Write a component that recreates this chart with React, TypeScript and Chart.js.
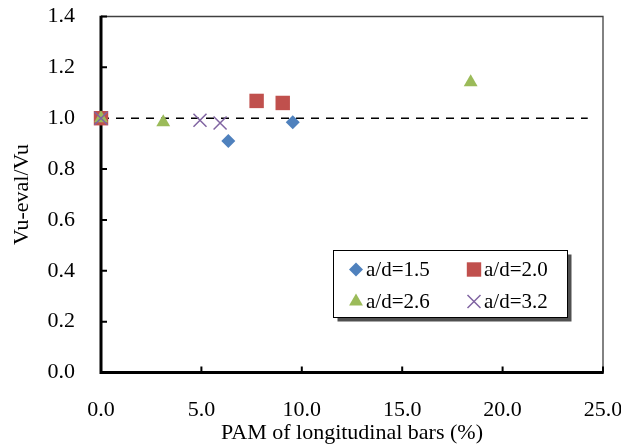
import React, { useEffect, useRef } from "react";
import { Chart, registerables } from "chart.js";

Chart.register(...registerables);

const FONT = "'Times New Roman', 'Liberation Serif', serif";

const xTicks = [0, 5, 10, 15, 20, 25];
const yTicks = [0, 0.2, 0.4, 0.6, 0.8, 1.0, 1.2, 1.4];
const seriesNames = ["a/d=1.5", "a/d=2.0", "a/d=2.6", "a/d=3.2"];
const seriesColors = ["#4F81BD", "#C0504D", "#9BBB59", "#8064A2"];

const s15X = [6.34, 9.55];
const s15Y = [0.91, 0.984];
const s20X = [0, 7.75, 9.05];
const s20Y = [1.0, 1.068, 1.06];
const s26X = [0, 3.1, 18.41];
const s26Y = [1.0, 0.984, 1.141];
const s32X = [0, 4.93, 5.93];
const s32Y = [1.0, 0.992, 0.981];
const refX = [0, 24.24];
const refY = [1.0, 1.0];

const xTitle = "PAM of longitudinal bars (%)";
const yTitle = "Vu-eval/Vu";

const pts = (xs: number[], ys: number[]) => xs.map((x, i) => ({ x, y: ys[i] }));

function drawMarker(ctx: CanvasRenderingContext2D, kind: number, x: number, y: number) {
  ctx.save();
  const c = seriesColors[kind];
  ctx.fillStyle = c;
  ctx.strokeStyle = c;
  ctx.beginPath();
  if (kind === 0) {
    const r = 7;
    ctx.moveTo(x - r, y);
    ctx.lineTo(x, y - r);
    ctx.lineTo(x + r, y);
    ctx.lineTo(x, y + r);
    ctx.closePath();
    ctx.fill();
  } else if (kind === 1) {
    const s = 7.2;
    ctx.rect(x - s, y - s, 2 * s, 2 * s);
    ctx.fill();
  } else if (kind === 2) {
    const r = 8;
    ctx.moveTo(x, y - r);
    ctx.lineTo(x + 0.866 * r, y + 0.5 * r);
    ctx.lineTo(x - 0.866 * r, y + 0.5 * r);
    ctx.closePath();
    ctx.fill();
  } else {
    const d = 6.5;
    ctx.lineWidth = 1.5;
    ctx.moveTo(x - d, y - d);
    ctx.lineTo(x + d, y + d);
    ctx.moveTo(x - d, y + d);
    ctx.lineTo(x + d, y - d);
    ctx.stroke();
  }
  ctx.restore();
}

const framePlugin = {
  id: "frame",
  beforeDatasetsDraw(chart: any) {
    const { ctx, chartArea: a, scales } = chart;
    ctx.save();
    ctx.strokeStyle = "#404040";
    ctx.lineWidth = 1.3;
    ctx.beginPath();
    ctx.moveTo(a.left, a.top);
    ctx.lineTo(a.right, a.top);
    ctx.lineTo(a.right, a.bottom);
    ctx.stroke();

    ctx.strokeStyle = "#000";
    ctx.lineWidth = 2;
    ctx.beginPath();
    for (const v of yTicks) {
      const y = scales.y.getPixelForValue(v);
      ctx.moveTo(a.left, y);
      ctx.lineTo(a.left + 6, y);
    }
    for (const v of xTicks) {
      const x = scales.x.getPixelForValue(v);
      ctx.moveTo(x, a.bottom);
      ctx.lineTo(x, a.bottom - 6);
    }
    ctx.stroke();

    ctx.lineWidth = 3;
    ctx.beginPath();
    ctx.moveTo(a.left, a.top - 0.7);
    ctx.lineTo(a.left, a.bottom);
    ctx.lineTo(a.right + 0.7, a.bottom);
    ctx.stroke();
    ctx.restore();
  },
};

const legendPlugin = {
  id: "boxLegend",
  afterDraw(chart: any) {
    const { ctx } = chart;
    const bx = 333.5, by = 250.5, bw = 234, bh = 67;
    ctx.save();
    ctx.fillStyle = "#505050";
    ctx.fillRect(bx + 4, by + 4, bw, bh);
    ctx.fillStyle = "#fff";
    ctx.fillRect(bx, by, bw, bh);
    ctx.strokeStyle = "#000";
    ctx.lineWidth = 1;
    ctx.strokeRect(bx, by, bw, bh);

    const colX = [356, 474];
    const rowY = [269.5, 301.5];
    ctx.font = `21px ${FONT}`;
    ctx.fillStyle = "#000";
    ctx.textAlign = "left";
    ctx.textBaseline = "alphabetic";
    for (let i = 0; i < 4; i++) {
      const cx = colX[i % 2];
      const cy = rowY[Math.floor(i / 2)];
      drawMarker(ctx, i, cx, cy);
      ctx.fillStyle = "#000";
      ctx.fillText(seriesNames[i], cx + 10, cy + 6.5);
    }
    ctx.restore();
  },
};

export default function App() {
  const ref = useRef<HTMLCanvasElement | null>(null);

  useEffect(() => {
    document.body.style.margin = "0";
    if (!ref.current) return;
    const tickFont = { family: FONT, size: 22 };
    const titleFont = { family: FONT, size: 22 };
    const chart = new Chart(ref.current, {
      type: "scatter",
      data: {
        datasets: [
          {
            label: seriesNames[0],
            data: pts(s15X, s15Y),
            pointStyle: "rectRot",
            pointRadius: 7,
            backgroundColor: seriesColors[0],
            borderColor: seriesColors[0],
            borderWidth: 0,
            clip: false,
            order: 3,
          } as any,
          {
            label: seriesNames[1],
            data: pts(s20X, s20Y),
            pointStyle: "rect",
            pointRadius: 10.2,
            backgroundColor: seriesColors[1],
            borderColor: seriesColors[1],
            borderWidth: 0,
            clip: false,
            order: 2,
          },
          {
            label: seriesNames[2],
            data: pts(s26X, s26Y),
            pointStyle: "triangle",
            pointRadius: 8,
            backgroundColor: seriesColors[2],
            borderColor: seriesColors[2],
            borderWidth: 0,
            clip: false,
            order: 1,
          },
          {
            label: seriesNames[3],
            data: pts(s32X, s32Y),
            pointStyle: "crossRot",
            pointRadius: 9.2,
            backgroundColor: seriesColors[3],
            borderColor: seriesColors[3],
            borderWidth: 1.5,
            clip: false,
            order: 0,
          },
          {
            type: "line",
            label: "ref",
            data: pts(refX, refY),
            borderColor: "#000",
            borderWidth: 1.5,
            borderDash: [8, 7],
            pointRadius: 0,
            showLine: true,
            fill: false,
            clip: false,
            order: 10,
          } as any,
        ],
      },
      options: {
        responsive: false,
        animation: false,
        events: [],
        layout: { padding: { left: 8.8, right: 18, top: 16.5, bottom: 1.5 } },
        plugins: { legend: { display: false }, tooltip: { enabled: false } },
        scales: {
          x: {
            type: "linear",
            min: 0,
            max: 25,
            afterBuildTicks: (s: any) => {
              s.ticks = xTicks.map((v) => ({ value: v }));
            },
            afterFit: (s: any) => {
              s.height = 448 - 1.5 - 372.5;
              s.paddingLeft = 0;
              s.paddingRight = 0;
            },
            grid: { display: false, drawTicks: false },
            border: { display: false },
            ticks: {
              padding: 25,
              color: "#000",
              font: tickFont,
              maxRotation: 0,
              autoSkip: false,
              callback: (v: any) => Number(v).toFixed(1),
            },
            title: { display: true, text: xTitle, color: "#000", font: titleFont, padding: 0 },
          },
          y: {
            type: "linear",
            min: 0,
            max: 1.4,
            afterBuildTicks: (s: any) => {
              s.ticks = yTicks.map((v) => ({ value: v }));
            },
            afterFit: (s: any) => {
              s.width = 101 - 8.8;
              s.paddingTop = 0;
              s.paddingBottom = 0;
            },
            grid: { display: false, drawTicks: false },
            border: { display: false },
            ticks: {
              padding: 26,
              color: "#000",
              font: tickFont,
              autoSkip: false,
              callback: (v: any) => Number(v).toFixed(1),
            },
            title: { display: true, text: yTitle, color: "#000", font: titleFont, padding: 0 },
          },
        },
      },
      plugins: [framePlugin, legendPlugin],
    });
    return () => chart.destroy();
  }, []);

  return (
    <div style={{ width: 621, height: 448 }}>
      <canvas ref={ref} width={621} height={448} style={{ display: "block", width: 621, height: 448 }} />
    </div>
  );
}
